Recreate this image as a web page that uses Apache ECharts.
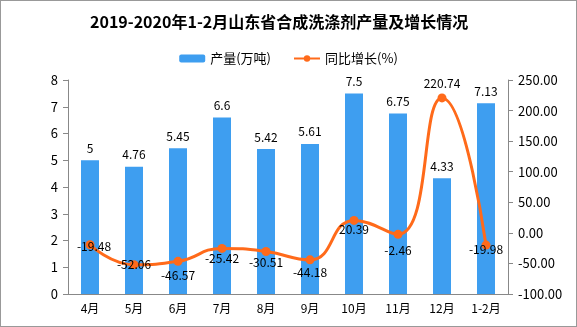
<!DOCTYPE html>
<html><head><meta charset="utf-8">
<script src="https://cdn.jsdelivr.net/npm/echarts@6/dist/echarts.min.js"></script>
<style>html,body{margin:0;padding:0;background:#fff}#c{width:575px;height:325px;border:1px solid #999}</style>
</head><body><div id="c"></div>
<script>
const titleText = '2019-2020年1-2月山东省合成洗涤剂产量及增长情况';
const categories = ['4月','5月','6月','7月','8月','9月','10月','11月','12月','1-2月'];
const output = [5, 4.76, 5.45, 6.6, 5.42, 5.61, 7.5, 6.75, 4.33, 7.13];
const growth = [-19.48, -52.06, -46.57, -25.42, -30.51, -44.18, 20.39, -2.46, 220.74, -19.98];
const rightTicks = [-100, -50, 0, 50, 100, 150, 200, 250];
const seriesNames = ['产量(万吨)', '同比增长(%)'];
// label offsets (style, not data)
const lineLabelOffsets = [[4,2],[0,0],[0,14],[0,10],[0,11],[0,13],[0,9],[0,16],[0,-14],[0,4]];

const font = '"Noto Sans CJK SC", sans-serif';
const chart = echarts.init(document.getElementById('c'));
chart.setOption({
  animation: false,
  textStyle: {fontFamily: font},
  title: {text: titleText, left: 84, top: 8, textStyle: {fontSize: 16, fontWeight: 'bold', color: '#000', fontFamily: font}},
  legend: {top: 46, left: 'center', itemWidth: 26, itemHeight: 8, itemGap: 22,
    textStyle: {fontSize: 13, color: '#000'}, data: seriesNames},
  grid: {left: 67, right: 68, top: 79, bottom: 32},
  xAxis: {type: 'category', data: categories,
    axisLine: {lineStyle: {color: '#888'}},
    axisTick: {length: 5, lineStyle: {color: '#888'}},
    axisLabel: {color: '#000', fontSize: 12, margin: 8}},
  yAxis: [
    {type: 'value', min: 0, max: 8, interval: 1,
     axisLine: {show: true, lineStyle: {color: '#888'}},
     axisTick: {show: true, length: 5, lineStyle: {color: '#888'}},
     axisLabel: {color: '#000', fontSize: 13, margin: 10},
     splitLine: {show: false}},
    {type: 'value', min: rightTicks[0], max: rightTicks[rightTicks.length-1], interval: 50,
     axisLine: {show: true, lineStyle: {color: '#888'}},
     axisTick: {show: true, length: 5, lineStyle: {color: '#888'}},
     axisLabel: {color: '#000', fontSize: 13, margin: 10, formatter: v => v.toFixed(2)},
     splitLine: {show: false}}
  ],
  series: [
    {name: seriesNames[0], type: 'bar', data: output, barWidth: 18,
     itemStyle: {color: '#3E9EF0'},
     label: {show: true, position: 'top', color: '#000', fontSize: 12, distance: 6}},
    {name: seriesNames[1], type: 'line', yAxisIndex: 1, smooth: true,
     data: growth.map((v, i) => ({value: v, label: {offset: lineLabelOffsets[i]}})),
     symbol: 'circle', symbolSize: 9,
     lineStyle: {color: '#FF6A1A', width: 3},
     itemStyle: {color: '#FF6A1A'},
     label: {show: true, position: 'inside', color: '#000', fontSize: 12}}
  ]
});
</script></body></html>
